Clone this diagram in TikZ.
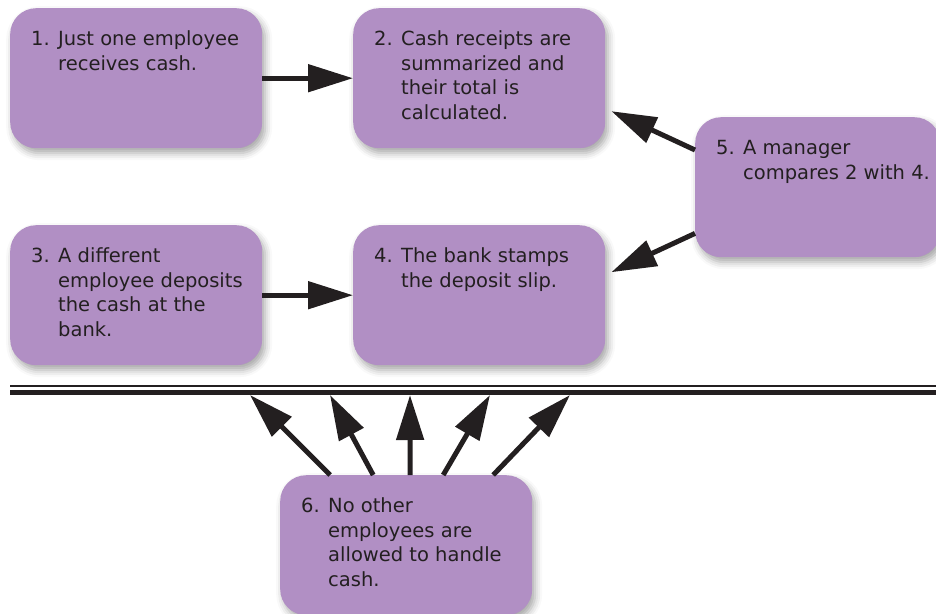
\documentclass[tikz,border=0pt]{standalone}
\usepackage{fontspec}
\setmainfont{DejaVu Sans}
\usetikzlibrary{arrows.meta,calc,shadows.blur}

\definecolor{boxpurple}{RGB}{177,143,196}
\definecolor{inkdark}{RGB}{35,31,32}

% text block of a step box: width, height, number, lines
\newcommand\steptext[4]{%
  \parbox[t][#2][t]{#1}{\vspace*{20.5pt}\leftskip=21pt\parindent=0pt
    \hangindent=27pt\hangafter=1\strut\makebox[27pt][l]{#3}#4\strut\par}}

\begin{document}
\begin{tikzpicture}[x=1pt,y=-1pt,
  stepbox/.style={fill=boxpurple, rounded corners=26pt, inner sep=0pt,
    anchor=north west, text=inkdark,
    font=\fontsize{19.5}{24.5}\selectfont,
    blur shadow={shadow xshift=3pt, shadow yshift=-5pt,
      shadow blur radius=7pt, shadow opacity=35}},
  flow/.style={draw=inkdark, line width=5pt,
    -{Triangle[length=45pt,width=27pt]}},
  rule/.style={draw=inkdark}]
\useasboundingbox (0,0) rectangle (936,613);

% the six steps
\node[stepbox] (b1) at (10,8)
  {\steptext{252pt}{140pt}{1.}{Just one employee\\receives cash.}};
\node[stepbox] (b2) at (353,8)
  {\steptext{252pt}{140pt}{2.}{Cash receipts are\\summarized and\\their total is\\calculated.}};
\node[stepbox] (b3) at (10,225)
  {\steptext{252pt}{140pt}{3.}{A different\\employee deposits\\the cash at the\\bank.}};
\node[stepbox] (b4) at (353,225)
  {\steptext{252pt}{140pt}{4.}{The bank stamps\\the deposit slip.}};
\node[stepbox] (b5) at (695,117)
  {\steptext{245pt}{140pt}{5.}{A manager\\compares 2 with 4.}};
\node[stepbox] (b6) at (280,475)
  {\steptext{252pt}{140pt}{6.}{No other\\employees are\\allowed to handle\\cash.}};

% double rule separating the control step
\draw[rule, line width=2.5pt] (10,386) coordinate (r1w) -- (936,386) coordinate (r1e);
\draw[rule, line width=5pt] (10,392.5) coordinate (r2w) -- (936,392.5) coordinate (r2e);

% flow between steps
\draw[flow] (b1) -- (b2);
\draw[flow] (b3) -- (b4);
\draw[flow] ($(b5.north west)+(0,33)$) -- ($(b2.east)+(6,33)$);
\draw[flow] ($(b5.south west)+(0,-24)$) -- ($(b4.east)+(6,-23)$);

% arrows from step 6 up to the rule
\coordinate (t1) at (250,395);
\coordinate (t2) at (330,395);
\coordinate (t3) at (410,395);
\coordinate (t4) at (490,395);
\coordinate (t5) at (570,395);
\draw[flow] ($(b6.north)+(-76,0)$) -- (t1);
\draw[flow] ($(b6.north)+(-33,0)$) -- (t2);
\draw[flow] ($(b6.north)+(4,0)$) -- (t3);
\draw[flow] ($(b6.north)+(37,0)$) -- (t4);
\draw[flow] ($(b6.north)+(87,0)$) -- (t5);
\end{tikzpicture}
\end{document}
